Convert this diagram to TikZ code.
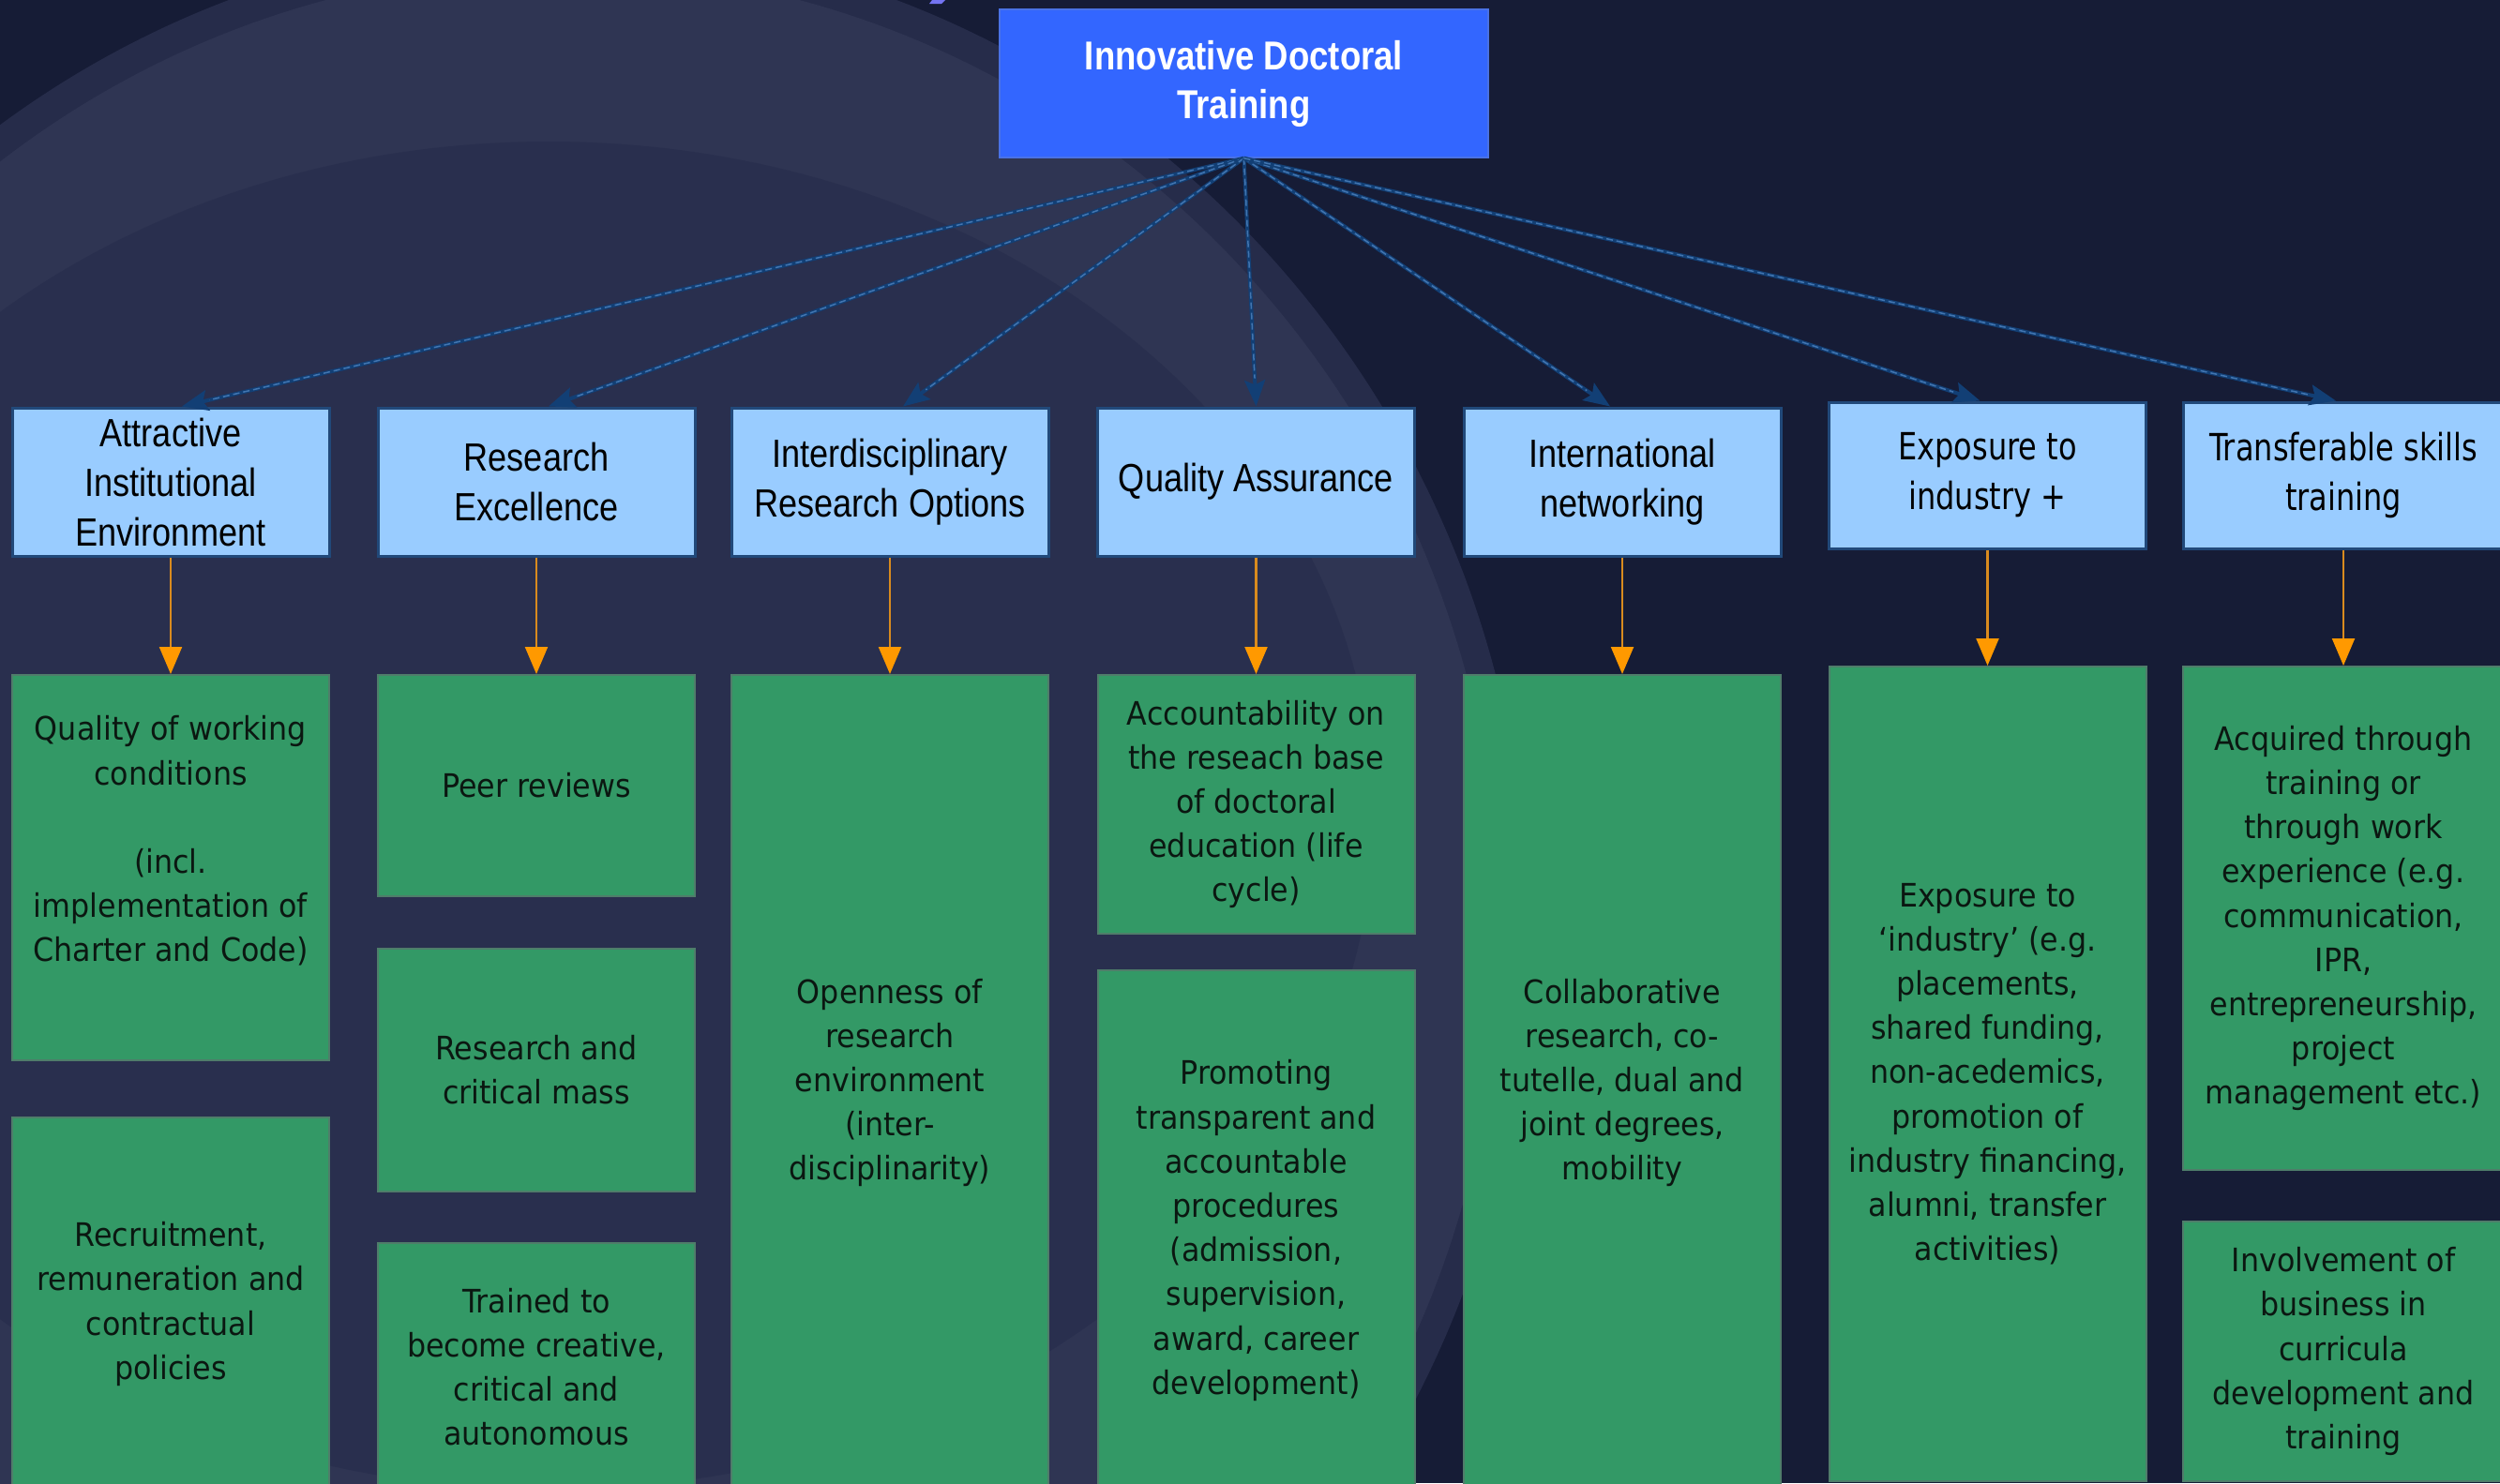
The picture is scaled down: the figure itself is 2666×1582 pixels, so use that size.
\documentclass[tikz,border=0pt]{standalone}
\usepackage{fontspec}
\usetikzlibrary{arrows.meta}
\newfontfamily\arialn[FakeStretch=0.86]{Liberation Sans}
\newfontfamily\arialbn[FakeStretch=0.85]{Liberation Sans}
\newfontfamily\verd[FakeStretch=0.92]{DejaVu Sans}
\newfontfamily\verdt[FakeStretch=0.8]{DejaVu Sans}
\definecolor{bgnavy}{HTML}{161C36}
\definecolor{bgband}{HTML}{262C4A}
\definecolor{bglight}{HTML}{2F3553}
\definecolor{bginner}{HTML}{292F4E}
\definecolor{topfill}{HTML}{3366FF}
\definecolor{topborder}{HTML}{4A72E6}
\definecolor{catfill}{HTML}{99CCFF}
\definecolor{catborder}{HTML}{21497A}
\definecolor{itemfill}{HTML}{339966}
\definecolor{itemborder}{HTML}{4F7D6A}
\definecolor{itemtext}{HTML}{0B1711}
\definecolor{arrowblue}{HTML}{123F75}
\definecolor{arrowhi}{HTML}{4275B0}
\definecolor{orangeline}{HTML}{D98B1E}
\definecolor{orangehead}{HTML}{FF9900}
\definecolor{purplemark}{HTML}{7474F2}
\begin{document}
\begin{tikzpicture}[x=1pt,y=-1pt,
  topbox/.style={draw=topborder, fill=topfill, line width=1.5pt, minimum width=521pt, minimum height=158pt, inner sep=0pt, text=white, align=center, font=\arialbn\bfseries\fontsize{43}{52}\selectfont},
  catbox/.style={draw=catborder, fill=catfill, line width=3pt, inner sep=0pt, minimum width=338pt, minimum height=158pt, align=center, text=black, font=\arialn\fontsize{42}{53}\selectfont},
  catboxv/.style={catbox, minimum height=156pt, font=\verdt\fontsize{40}{53}\selectfont},
  itembox/.style={draw=itemborder, fill=itemfill, line width=2pt, inner sep=0pt, minimum width=338pt, align=center, text=itemtext, font=\verd\fontsize{34.5}{47.2}\selectfont},
  itemtxt/.style={inner sep=0pt, align=center, text=itemtext, font=\verd\fontsize{34.5}{47.2}\selectfont},
  feed/.style={draw=arrowblue, line width=4pt, -{Stealth[length=28pt,width=22pt,inset=5pt]}},
  feedhi/.style={draw=arrowhi, line width=1.5pt, dash pattern=on 7pt off 4pt, shorten >=30pt},
  sub/.style={draw=orangeline, line width=2.2pt, -{Triangle[length=29pt,width=24pt,fill=orangehead,color=orangehead]}}
]
\useasboundingbox (0,0) rectangle (2666,1582);
\fill[bgnavy] (0,0) rectangle (2666,1582);
\begin{scope}
  \clip (0,0) rectangle (2666,1582);
  \fill[bgband] (600,995) ellipse [x radius=1030pt, y radius=1060pt];
  \fill[bglight] (600,995) ellipse [x radius=1000pt, y radius=1028pt];
  \fill[bginner] (585,870) ellipse [x radius=880pt, y radius=719pt];
  \fill[purplemark] (994,0) -- (1008,0) -- (1004,4) -- (991,4) -- cycle;
\end{scope}

% top
\node[topbox] (top) at (1326.5,89) {Innovative Doctoral\\Training};

% categories
\node[catbox] (c1) at (182,514) {Attractive\\Institutional\\Environment};
\node[catbox] (c2) at (572,514) {Research\\Excellence};
\node[catbox] (c3) at (949,514) {Interdisciplinary\\Research Options};
\node[catbox] (c4) at (1339.5,514) {Quality Assurance};
\node[catbox] (c5) at (1730,514) {International\\networking};
\node[catboxv] (c6) at (2119.5,507) {Exposure to\\industry +};
\node[catboxv, minimum width=342pt] (c7) at (2499,507) {Transferable skills\\training};

% items
\node[itembox, minimum height=411pt] (g1a) at (182,925.5) {};
\node[itemtxt] (g1atext) at (182,897) {Quality of working\\conditions\\[47.2pt](incl.\\implementation of\\Charter and Code)};
\node[itembox, minimum height=398pt] (g1b) at (182,1391) {Recruitment,\\remuneration and\\contractual\\policies};
\node[itembox, minimum height=236pt] (g2a) at (572,838) {Peer reviews};
\node[itembox, minimum height=259pt] (g2b) at (572,1141.5) {Research and\\critical mass};
\node[itembox, minimum height=264pt] (g2c) at (572,1458) {Trained to\\become creative,\\critical and\\autonomous};
\node[itembox, minimum height=870pt] (g3) at (949,1155) {Openness of\\research\\environment\\(inter-\\disciplinarity)};
\node[itembox, minimum height=276pt] (g4a) at (1339.5,858) {Accountability on\\the reseach base\\of doctoral\\education (life\\cycle)};
\node[itembox, minimum height=555pt] (g4b) at (1339.5,1312.5) {Promoting\\transparent and\\accountable\\procedures\\(admission,\\supervision,\\award, career\\development)};
\node[itembox, minimum height=870pt] (g5) at (1730,1155) {Collaborative\\research, co-\\tutelle, dual and\\joint degrees,\\mobility};
\node[itembox, minimum height=869pt] (g6) at (2119.5,1145.5) {Exposure to\\‘industry’ (e.g.\\placements,\\shared funding,\\non-acedemics,\\promotion of\\industry financing,\\alumni, transfer\\activities)};
\node[itembox, minimum width=342pt, minimum height=537pt] (g7a) at (2499,979.5) {Acquired through\\training or\\through work\\experience (e.g.\\communication,\\IPR,\\entrepreneurship,\\project\\management etc.)};
\node[itembox, minimum width=342pt, minimum height=277pt] (g7b) at (2499,1441.5) {Involvement of\\business in\\curricula\\development and\\training};

% blue connectors
\foreach \c/\s in {c1/12pt, c2/13pt, c3/14pt, c4/0pt, c5/-13pt, c6/-8pt, c7/-8pt}{
  \draw[feed] (top.south) -- ([xshift=\s]\c.north);
  \draw[feedhi] (top.south) -- ([xshift=\s]\c.north);
}

% orange connectors
\draw[sub] (c1.south) -- (g1a.north);
\draw[sub] (c2.south) -- (g2a.north);
\draw[sub] (c3.south) -- (g3.north);
\draw[sub] (c4.south) -- (g4a.north);
\draw[sub] (c5.south) -- (g5.north);
\draw[sub] (c6.south) -- (g6.north);
\draw[sub] (c7.south) -- (g7a.north);
\end{tikzpicture}
\end{document}
